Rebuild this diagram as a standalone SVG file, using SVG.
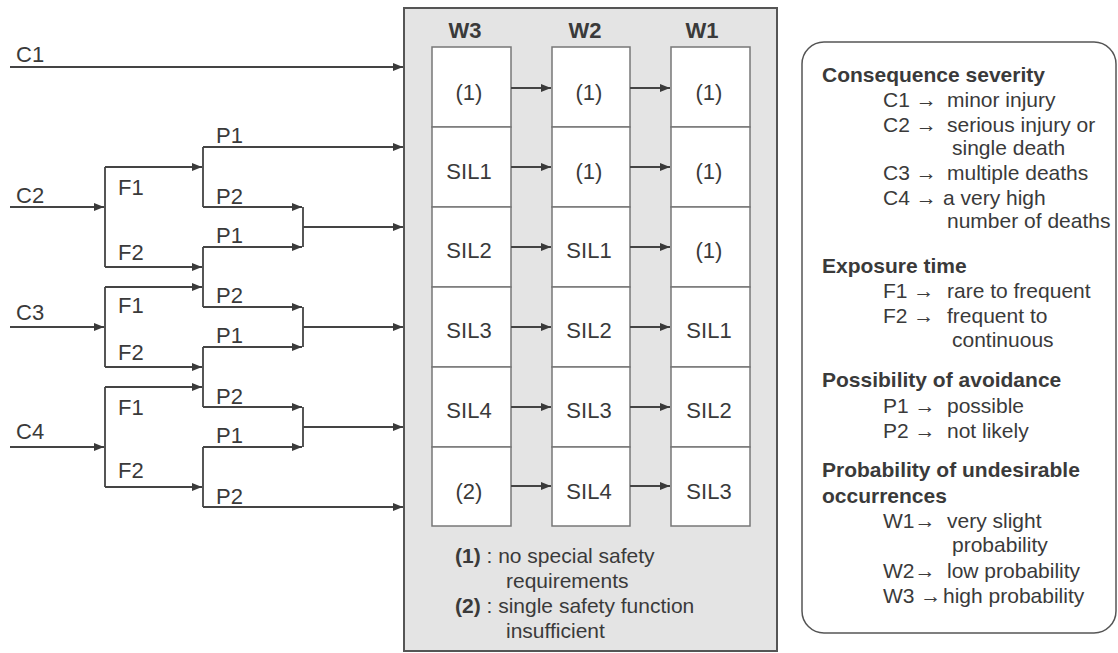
<svg xmlns="http://www.w3.org/2000/svg" width="1118" height="653" viewBox="0 0 1118 653">
<defs>
<marker id="ah" markerUnits="userSpaceOnUse" markerWidth="10" markerHeight="8" refX="10" refY="4" orient="auto">
<path d="M0,0 L10,4 L0,8 z" fill="#3a3a3a"/>
</marker>
<style>
text{font-family:"Liberation Sans",Arial,Helvetica,sans-serif;fill:#3a3a3a}
.t{font-size:21px}
.tl{font-size:22px}
.cell{font-size:22px;text-anchor:middle}
.hd{font-size:22px;font-weight:bold;text-anchor:middle}
.b{font-weight:bold}
.lg{font-size:21px}
.ln{fill:none;stroke:#444;stroke-width:1.8}
.ar{fill:none;stroke:#444;stroke-width:1.8;marker-end:url(#ah)}
.c{fill:#fff;stroke:#777;stroke-width:1.5}
</style>
</defs>
<rect width="1118" height="653" fill="#fff"/>

<g id="matrix">
<rect x="404" y="8" width="373" height="643" fill="#e4e4e4" stroke="#555" stroke-width="2"/>
<text class="hd" x="465" y="38">W3</text>
<text class="hd" x="585" y="38">W2</text>
<text class="hd" x="702" y="38">W1</text>
</g>

<g id="col-w3">
<rect class="c" x="432" y="47" width="79" height="80"/>
<rect class="c" x="432" y="127" width="79" height="80"/>
<rect class="c" x="432" y="207" width="79" height="80"/>
<rect class="c" x="432" y="287" width="79" height="80"/>
<rect class="c" x="432" y="367" width="79" height="80"/>
<rect class="c" x="432" y="447" width="79" height="79"/>
<text class="cell" x="469" y="100">(1)</text>
<text class="cell" x="469" y="179">SIL1</text>
<text class="cell" x="469" y="258">SIL2</text>
<text class="cell" x="469" y="338">SIL3</text>
<text class="cell" x="469" y="418">SIL4</text>
<text class="cell" x="469" y="499">(2)</text>
</g>
<g id="col-w2">
<rect class="c" x="552" y="47" width="78" height="80"/>
<rect class="c" x="552" y="127" width="78" height="80"/>
<rect class="c" x="552" y="207" width="78" height="80"/>
<rect class="c" x="552" y="287" width="78" height="80"/>
<rect class="c" x="552" y="367" width="78" height="80"/>
<rect class="c" x="552" y="447" width="78" height="79"/>
<text class="cell" x="589" y="100">(1)</text>
<text class="cell" x="589" y="179">(1)</text>
<text class="cell" x="589" y="258">SIL1</text>
<text class="cell" x="589" y="338">SIL2</text>
<text class="cell" x="589" y="418">SIL3</text>
<text class="cell" x="589" y="499">SIL4</text>
</g>
<g id="col-w1">
<rect class="c" x="671" y="47" width="79" height="80"/>
<rect class="c" x="671" y="127" width="79" height="80"/>
<rect class="c" x="671" y="207" width="79" height="80"/>
<rect class="c" x="671" y="287" width="79" height="80"/>
<rect class="c" x="671" y="367" width="79" height="80"/>
<rect class="c" x="671" y="447" width="79" height="79"/>
<text class="cell" x="709" y="100">(1)</text>
<text class="cell" x="709" y="179">(1)</text>
<text class="cell" x="709" y="258">(1)</text>
<text class="cell" x="709" y="338">SIL1</text>
<text class="cell" x="709" y="418">SIL2</text>
<text class="cell" x="709" y="499">SIL3</text>
</g>

<g id="notes">
<text class="t" x="455" y="563"><tspan class="b">(1)</tspan> : no special safety</text>
<text class="t" x="506" y="588">requirements</text>
<text class="t" x="455" y="613"><tspan class="b">(2)</tspan> : single safety function</text>
<text class="t" x="506" y="638">insufficient</text>
</g>

<g id="tree-labels">
<text class="tl" x="16" y="62">C1</text>
<text class="tl" x="16" y="203">C2</text>
<text class="tl" x="16" y="320">C3</text>
<text class="tl" x="16" y="439">C4</text>
<text class="tl" x="118" y="195">F1</text>
<text class="tl" x="118" y="260">F2</text>
<text class="tl" x="118" y="313">F1</text>
<text class="tl" x="118" y="360">F2</text>
<text class="tl" x="118" y="415">F1</text>
<text class="tl" x="118" y="478">F2</text>
<text class="tl" x="216" y="143">P1</text>
<text class="tl" x="216" y="204">P2</text>
<text class="tl" x="216" y="243">P1</text>
<text class="tl" x="216" y="303">P2</text>
<text class="tl" x="216" y="343">P1</text>
<text class="tl" x="216" y="404">P2</text>
<text class="tl" x="216" y="443">P1</text>
<text class="tl" x="216" y="504">P2</text>
</g>

<g id="connectors">
<path class="ar" d="M10,67 H403"/>
<path class="ar" d="M10,207 H104"/>
<path class="ar" d="M10,327 H104"/>
<path class="ar" d="M10,447 H104"/>
<path class="ln" d="M105,167 V267 M105,287 V367 M105,387 V487"/>
<path class="ar" d="M105,167 H202"/>
<path class="ar" d="M105,267 H202"/>
<path class="ar" d="M105,287 H202"/>
<path class="ar" d="M105,367 H202"/>
<path class="ar" d="M105,387 H202"/>
<path class="ar" d="M105,487 H202"/>
<path class="ln" d="M203,147 V207 M203,247 V307 M203,347 V407 M203,447 V507"/>
<path class="ar" d="M203,147 H403"/>
<path class="ar" d="M203,207 H302"/>
<path class="ar" d="M203,247 H302"/>
<path class="ar" d="M203,307 H302"/>
<path class="ar" d="M203,347 H302"/>
<path class="ar" d="M203,407 H302"/>
<path class="ar" d="M203,447 H302"/>
<path class="ar" d="M203,507 H403"/>
<path class="ln" d="M303,207 V247 M303,307 V347 M303,407 V447"/>
<path class="ar" d="M303,227 H403"/>
<path class="ar" d="M303,327 H403"/>
<path class="ar" d="M303,427 H403"/>
<path class="ar" d="M511,88 H551"/>
<path class="ar" d="M511,167 H551"/>
<path class="ar" d="M511,247 H551"/>
<path class="ar" d="M511,327 H551"/>
<path class="ar" d="M511,407 H551"/>
<path class="ar" d="M511,486 H551"/>
<path class="ar" d="M630,88 H670"/>
<path class="ar" d="M630,167 H670"/>
<path class="ar" d="M630,247 H670"/>
<path class="ar" d="M630,327 H670"/>
<path class="ar" d="M630,407 H670"/>
<path class="ar" d="M630,486 H670"/>
</g>

<g id="legend">
<rect x="802" y="42" width="314" height="591" rx="22" fill="#fff" stroke="#555" stroke-width="1.5"/>
<text class="lg b" x="822" y="82">Consequence severity</text>
<text class="lg" x="883" y="107">C1 →</text><text class="lg" x="947" y="107">minor injury</text>
<text class="lg" x="883" y="132">C2 →</text><text class="lg" x="947" y="132">serious injury or</text>
<text class="lg" x="952" y="155">single death</text>
<text class="lg" x="883" y="180">C3 →</text><text class="lg" x="947" y="180">multiple deaths</text>
<text class="lg" x="883" y="205">C4 →</text><text class="lg" x="943" y="205">a very high</text>
<text class="lg" x="947" y="228">number of deaths</text>
<text class="lg b" x="822" y="273">Exposure time</text>
<text class="lg" x="883" y="298">F1 →</text><text class="lg" x="947" y="298">rare to frequent</text>
<text class="lg" x="883" y="323">F2 →</text><text class="lg" x="947" y="323">frequent to</text>
<text class="lg" x="952" y="347">continuous</text>
<text class="lg b" x="822" y="387">Possibility of avoidance</text>
<text class="lg" x="883" y="413">P1 →</text><text class="lg" x="947" y="413">possible</text>
<text class="lg" x="883" y="438">P2 →</text><text class="lg" x="947" y="438">not likely</text>
<text class="lg b" x="822" y="477">Probability of undesirable</text>
<text class="lg b" x="822" y="503">occurrences</text>
<text class="lg" x="883" y="528">W1→</text><text class="lg" x="947" y="528">very slight</text>
<text class="lg" x="952" y="552">probability</text>
<text class="lg" x="883" y="578">W2→</text><text class="lg" x="947" y="578">low probability</text>
<text class="lg" x="883" y="603">W3 →</text><text class="lg" x="943" y="603">high probability</text>
</g>
</svg>
